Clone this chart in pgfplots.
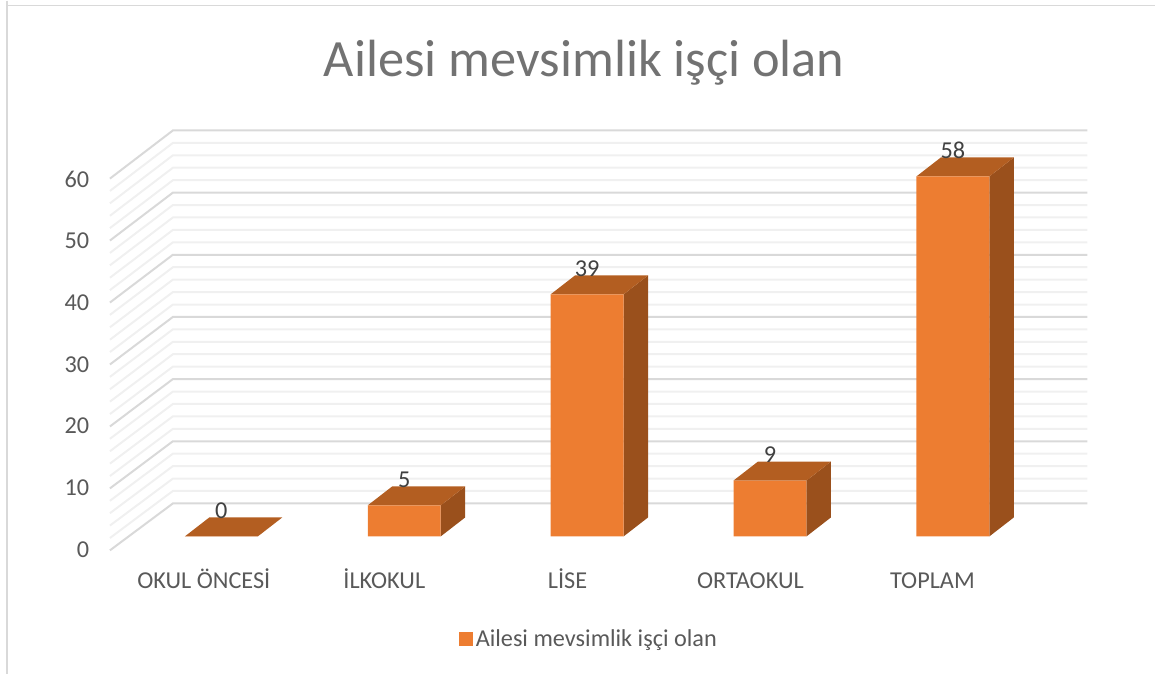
\documentclass[border=0pt]{standalone}
\usepackage{fontspec}
\setmainfont{Carlito}
\usepackage{pgfplots}
\pgfplotsset{compat=1.18}
\usepackage{pgfplotstable}
\definecolor{barfront}{HTML}{ED7D31}
\definecolor{bartop}{HTML}{B35E21}
\definecolor{barside}{HTML}{9A501C}
\definecolor{gridmaj}{HTML}{D9D9D9}
\definecolor{gridmin}{HTML}{F0F0F0}
\definecolor{txt}{HTML}{595959}
\definecolor{framec}{HTML}{D9D9D9}
\pgfplotstableread{
x v
0 0
1 5
2 39
3 9
4 58
}\bardata
\newcommand{\gl}[3]{\addplot[#1,line width=1.5pt,forget plot] coordinates {(-0.6093,#2)(-0.265,#3)(4.735,#3)};}
\newcommand{\face}[2]{\addplot[fill=#1,draw=none,forget plot] coordinates {#2} --cycle;}
\begin{document}
\begin{tikzpicture}
\begin{axis}[
  scale only axis, width=867pt, height=505.5pt,
  xmin=-1.2104, xmax=5.1066, ymin=-22.222, ymax=86.312,
  clip=false,
  axis line style={draw=none},
  tick style={draw=none},
  major tick length=0pt,
  font=\fontsize{18.2pt}{22pt}\selectfont,
  /pgf/number format/assume math mode=true,
  xtick={-0.096,0.891,1.893,2.893,3.888},
  xticklabels={OKUL ÖNCESİ,İLKOKUL,LİSE,ORTAOKUL,TOPLAM},
  ytick={-1.93,8.05,18.04,27.86,37.84,47.83,57.81},
  yticklabels={0,10,20,30,40,50,60},
  xticklabel style={text=txt,anchor=base,yshift=64.5pt},
  yticklabel style={text=txt,xshift=70.5pt,yshift=-1pt},
  legend style={at={(axis cs:2.012,-16.59)},anchor=center,draw=none,fill=none,
    text=txt,font=\fontsize{18.2pt}{22pt}\selectfont,inner sep=0pt,
    legend cell align=left},
  legend image code/.code={\fill[barfront] (-1pt,-5.25pt) rectangle (9.5pt,5.25pt);},
]
% frame
\draw[framec,line width=1.1pt] (axis cs:-1.1722,86.312) -- (axis cs:-1.1722,85.5) -- (axis cs:5.1066,85.5);
\draw[framec,line width=1.1pt] (axis cs:-1.1722,85.5) -- (axis cs:-1.1722,-22.222);
% minor gridlines
\gl{gridmin}{-0.26}{7.32}\gl{gridmin}{1.74}{9.32}\gl{gridmin}{3.74}{11.32}\gl{gridmin}{5.73}{13.33}
\gl{gridmin}{9.73}{17.33}\gl{gridmin}{11.72}{19.34}\gl{gridmin}{13.72}{21.34}\gl{gridmin}{15.72}{23.34}
\gl{gridmin}{19.71}{27.35}\gl{gridmin}{21.71}{29.35}\gl{gridmin}{23.70}{31.36}\gl{gridmin}{25.70}{33.36}
\gl{gridmin}{29.70}{37.36}\gl{gridmin}{31.69}{39.37}\gl{gridmin}{33.69}{41.37}\gl{gridmin}{35.69}{43.37}
\gl{gridmin}{39.68}{47.38}\gl{gridmin}{41.68}{49.38}\gl{gridmin}{43.67}{51.39}\gl{gridmin}{45.67}{53.39}
\gl{gridmin}{49.67}{57.39}\gl{gridmin}{51.66}{59.40}\gl{gridmin}{53.66}{61.40}\gl{gridmin}{55.66}{63.40}
% major gridlines
\gl{gridmaj}{-2.25}{5.31}\gl{gridmaj}{7.73}{15.33}\gl{gridmaj}{17.71}{25.35}\gl{gridmaj}{27.70}{35.36}
\gl{gridmaj}{37.68}{45.38}\gl{gridmaj}{47.67}{55.39}\gl{gridmaj}{57.65}{65.41}
% side faces
\face{barside}{(1.1995,0)(1.3334,3.06)(1.3334,8.06)(1.1995,5)}
\face{barside}{(2.1995,0)(2.3334,3.06)(2.3334,42.06)(2.1995,39)}
\face{barside}{(3.1995,0)(3.3334,3.06)(3.3334,12.06)(3.1995,9)}
\face{barside}{(4.1995,0)(4.3334,3.06)(4.3334,61.06)(4.1995,58)}
% top faces
\face{bartop}{(-0.1995,0)(0.1995,0)(0.3334,3.06)(-0.0656,3.06)}
\face{bartop}{(0.8005,5)(1.1995,5)(1.3334,8.06)(0.9344,8.06)}
\face{bartop}{(1.8005,39)(2.1995,39)(2.3334,42.06)(1.9344,42.06)}
\face{bartop}{(2.8005,9)(3.1995,9)(3.3334,12.06)(2.9344,12.06)}
\face{bartop}{(3.8005,58)(4.1995,58)(4.3334,61.06)(3.9344,61.06)}
% front faces
\addplot[ybar,bar width=54.75pt,fill=barfront,draw=none,
  nodes near coords,
  every node near coord/.style={text=black!75,anchor=center,yshift=19.5pt,
    font=\fontsize{18.2pt}{22pt}\selectfont}]
  table[x=x,y=v] {\bardata};
\legend{Ailesi mevsimlik işçi olan}
\node[text=txt!85,font=\fontsize{39.3pt}{46pt}\selectfont,anchor=center] at (axis cs:1.984,76.4) {Ailesi mevsimlik işçi olan};
\end{axis}
\end{tikzpicture}
\end{document}
